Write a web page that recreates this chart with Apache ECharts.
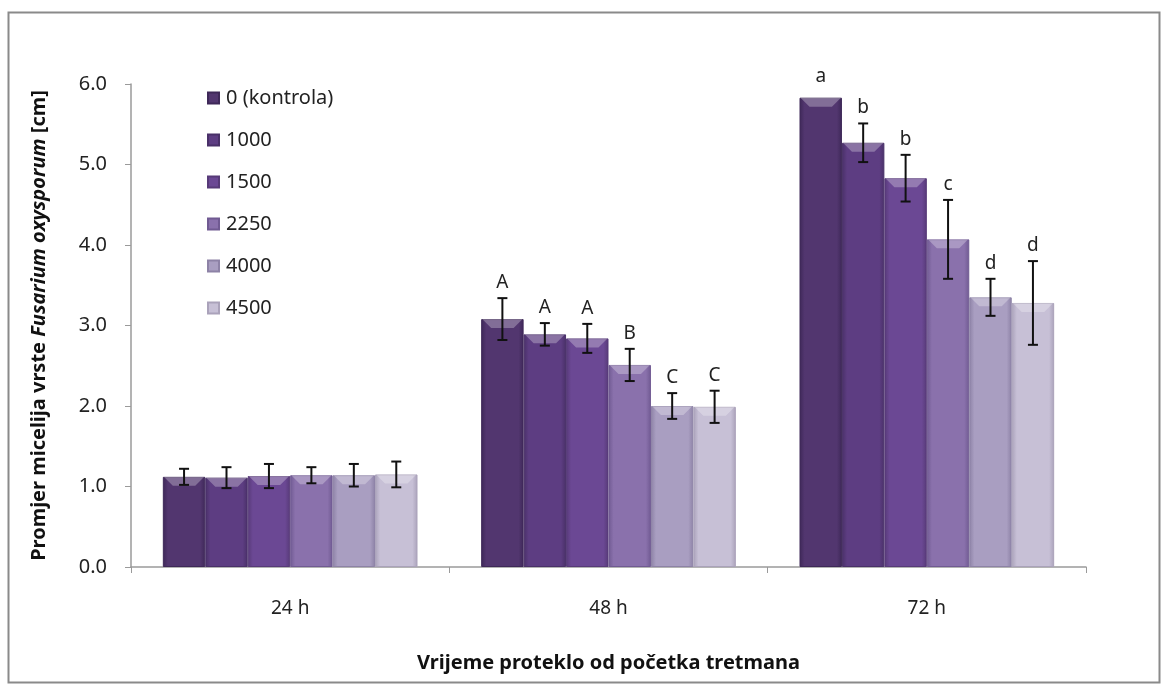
<!DOCTYPE html>
<html>
<head>
<meta charset="utf-8">
<script src="https://cdn.jsdelivr.net/npm/echarts@6/dist/echarts.min.js"></script>
<style>
html,body{margin:0;padding:0;background:#fff;}
#chart{width:1165px;height:686px;}
</style>
</head>
<body>
<div id="chart"></div>
<script>
// ---- DATA ----
const categories = ['24 h', '48 h', '72 h'];
const seriesNames = ['0 (kontrola)', '1000', '1500', '2250', '4000', '4500'];
// mean values per time point (one value per concentration)
const values24h = [1.12, 1.11, 1.13, 1.14, 1.14, 1.15];
const values48h = [3.08, 2.89, 2.84, 2.51, 2.00, 1.99];
const values72h = [5.83, 5.27, 4.83, 4.07, 3.35, 3.28];
// error bar half-lengths
const errors24h = [0.10, 0.13, 0.15, 0.10, 0.14, 0.16];
const errors48h = [0.26, 0.14, 0.18, 0.20, 0.16, 0.20];
const errors72h = [0.00, 0.24, 0.29, 0.49, 0.23, 0.52];
// significance letters
const letters24h = ['', '', '', '', '', ''];
const letters48h = ['A', 'A', 'A', 'B', 'C', 'C'];
const letters72h = ['a', 'b', 'b', 'c', 'd', 'd'];
const yTicks = [0, 1, 2, 3, 4, 5, 6];

// ---- STYLE ----
const baseColors = ['#52366f', '#5d3d82', '#6b4894', '#8a71ac', '#a99ec1', '#c7c0d6'];
const edgeColors = ['#3e2858', '#493068', '#573a78', '#705a92', '#8d82a6', '#aaa2ba'];
const FONT = 'Noto Sans';

const allValues = [values24h, values48h, values72h];
const allErrors = [errors24h, errors48h, errors72h];
const allLetters = [letters24h, letters48h, letters72h];

const barSeries = seriesNames.map((name, s) => ({
  name: name,
  type: 'bar',
  barGap: 0,
  barCategoryGap: '20%',
  data: allValues.map(arr => arr[s]),
  itemStyle: {
    color: {
      type: 'linear', x: 0, y: 0, x2: 1, y2: 0,
      colorStops: [
        {offset: 0, color: edgeColors[s]},
        {offset: 0.12, color: baseColors[s]},
        {offset: 0.88, color: baseColors[s]},
        {offset: 1, color: edgeColors[s]}
      ]
    },
    borderColor: edgeColors[s],
    borderWidth: 1
  },
  emphasis: {disabled: true}
}));

const errData = [];
const errLetters = [];
allValues.forEach((arr, c) => {
  arr.forEach((v, s) => {
    errData.push([c, s, v, allErrors[c][s]]);
    errLetters.push(allLetters[c][s]);
  });
});

const errSeries = {
  type: 'custom',
  name: 'err',
  z: 10,
  silent: true,
  encode: {x: 0, y: 2},
  data: errData,
  renderItem: function (params, api) {
    const c = api.value(0), s = api.value(1), v = api.value(2), e = api.value(3);
    const band = api.size([1, 0])[0];
    const bw = band * 0.8 / seriesNames.length;
    const center = api.coord([c, 0])[0];
    const x = center - band * 0.4 + bw * (s + 0.5);
    const barTop = api.coord([c, v])[1];
    const top = api.coord([c, v + e])[1];
    const bot = api.coord([c, v - e])[1];
    const children = [];
    // bevel highlight at the bar top
    const bx0 = x - bw / 2 + 1, bx1 = x + bw / 2 - 1, bev = 9;
    children.push({
      type: 'polygon',
      shape: {points: [[bx0, barTop], [bx1, barTop], [bx1 - bev, barTop + bev], [bx0 + bev, barTop + bev]]},
      style: {fill: 'rgba(255,255,255,0.28)'}
    });
    const st = {stroke: '#111', lineWidth: 2};
    if (e > 0) {
      children.push({type: 'line', shape: {x1: x, y1: top, x2: x, y2: bot}, style: st});
      children.push({type: 'line', shape: {x1: x - 5, y1: top, x2: x + 5, y2: top}, style: st});
      children.push({type: 'line', shape: {x1: x - 5, y1: bot, x2: x + 5, y2: bot}, style: st});
    }
    const letter = errLetters[params.dataIndex];
    if (letter) {
      children.push({
        type: 'text',
        style: {
          text: letter, x: x, y: top - (e > 0 ? 6 : 12),
          align: 'center', verticalAlign: 'bottom',
          fill: '#222', font: '19px "' + FONT + '"'
        }
      });
    }
    return {type: 'group', children: children};
  }
};

const chart = echarts.init(document.getElementById('chart'), null, {renderer: 'canvas'});
chart.setOption({
  animation: false,
  backgroundColor: '#fff',
  textStyle: {fontFamily: FONT},
  graphic: [{
    type: 'rect', left: 6, top: 10, z: -1,
    shape: {width: 1151, height: 670},
    style: {fill: 'none', stroke: '#8a8a8a', lineWidth: 2}
  }],
  legend: {
    data: seriesNames,
    orient: 'vertical',
    left: 202,
    top: 83,
    itemWidth: 11,
    itemHeight: 11,
    itemGap: 22,
    icon: 'rect',
    textStyle: {fontFamily: FONT, fontSize: 20, color: '#222', padding: [0, 0, 0, 2]}
  },
  grid: {left: 131, right: 79, top: 84, bottom: 119},
  xAxis: {
    type: 'category',
    data: categories,
    name: 'Vrijeme proteklo od početka tretmana',
    nameLocation: 'middle',
    nameGap: 86,
    nameTextStyle: {fontFamily: FONT, fontSize: 20, fontWeight: 'bold', color: '#111'},
    axisLine: {lineStyle: {color: '#9a9a9a', width: 1.5}},
    axisTick: {show: true, length: 6, lineStyle: {color: '#9a9a9a'}},
    axisLabel: {fontFamily: FONT, fontSize: 19, color: '#222', margin: 32}
  },
  yAxis: {
    type: 'value',
    min: 0, max: 6, interval: 1,
    name: '{n|Promjer micelija vrste }{i|Fusarium oxysporum}{n| [cm]}',
    nameLocation: 'middle',
    nameGap: 82,
    nameRotate: 90,
    nameTextStyle: {
      fontFamily: FONT, fontSize: 20, fontWeight: 'bold', color: '#111',
      rich: {
        n: {fontFamily: FONT, fontSize: 20, fontWeight: 'bold', color: '#111'},
        i: {fontFamily: FONT, fontSize: 20, fontWeight: 'bold', fontStyle: 'italic', color: '#111'}
      }
    },
    axisLine: {show: true, lineStyle: {color: '#9a9a9a', width: 1.5}},
    axisTick: {show: true, length: 6, lineStyle: {color: '#9a9a9a'}},
    splitLine: {show: false},
    axisLabel: {
      fontFamily: FONT, fontSize: 20, color: '#222', margin: 24,
      formatter: v => (yTicks.indexOf(v) >= 0 ? v.toFixed(1) : '')
    }
  },
  series: barSeries.concat([errSeries])
});
</script>
</body>
</html>
